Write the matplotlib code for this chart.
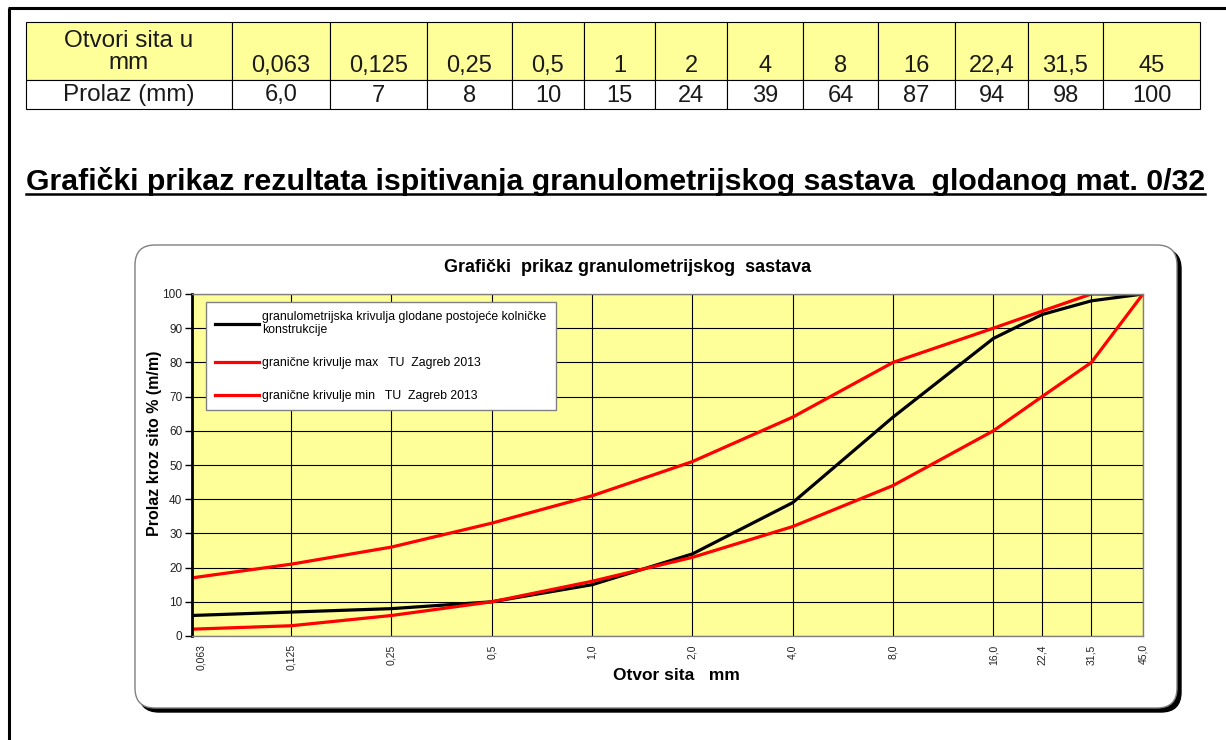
import matplotlib
matplotlib.use("Agg")
import matplotlib.pyplot as plt
from matplotlib.patches import FancyBboxPatch, Rectangle
from matplotlib.ticker import FixedLocator, FixedFormatter, NullLocator
from matplotlib.transforms import ScaledTranslation

plt.rcParams["font.family"] = ["Liberation Sans", "DejaVu Sans"]

# data
sieve_mm = [0.063, 0.125, 0.25, 0.5, 1.0, 2.0, 4.0, 8.0, 16.0, 22.4, 31.5, 45.0]
passing = [6.0, 7, 8, 10, 15, 24, 39, 64, 87, 94, 98, 100]
limit_max = [17, 21, 26, 33, 41, 51, 64, 80, 90, 95, 100, 100]
limit_min = [2, 3, 6, 10, 16, 23, 32, 44, 60, 70, 80, 100]

table_heads = ["0,063", "0,125", "0,25", "0,5", "1", "2", "4", "8", "16", "22,4", "31,5", "45"]
table_vals = ["6,0", "7", "8", "10", "15", "24", "39", "64", "87", "94", "98", "100"]
x_ticklabels = ["0,063", "0,125", "0,25", "0,5", "1,0", "2,0", "4,0", "8,0", "16,0", "22,4", "31,5", "45,0"]

heading = "Grafički prikaz rezultata ispitivanja granulometrijskog sastava  glodanog mat. 0/32"
chart_title = "Grafički  prikaz granulometrijskog  sastava"
legend_labels = [
    "granulometrijska krivulja glodane postojeće kolničke\nkonstrukcije",
    "granične krivulje max   TU  Zagreb 2013",
    "granične krivulje min   TU  Zagreb 2013",
]

W, H = 1226, 740
fig = plt.figure(figsize=(W / 100, H / 100), dpi=100)

# page layer in pixel units
page = fig.add_axes([0, 0, 1, 1])
page.set_xlim(0, W)
page.set_ylim(H, 0)
page.axis("off")

# page border
page.plot([8, W], [8, 8], color="black", lw=2.2, solid_capstyle="butt")
page.plot([9, 9], [8, H], color="black", lw=2.2, solid_capstyle="butt")

# table
col_edges = [26, 232, 330, 427, 512, 584, 655, 727, 803, 878, 955, 1028, 1103, 1200]
row_top, row_mid, row_bot = 22, 80, 109
txt = "#1a1a1a"
for i in range(len(col_edges) - 1):
    x0, x1 = col_edges[i], col_edges[i + 1]
    page.add_patch(Rectangle((x0, row_top), x1 - x0, row_mid - row_top,
                             facecolor="#FFFF99", edgecolor="black", lw=0.8))
    page.add_patch(Rectangle((x0, row_mid), x1 - x0, row_bot - row_mid,
                             facecolor="white", edgecolor="black", lw=0.8))
    xc = (x0 + x1) / 2
    if i == 0:
        page.text(xc, (row_top + row_mid) / 2 + 1, "Otvori sita u\nmm", fontsize=17.5,
                  ha="center", va="center", linespacing=1.0, color=txt)
        page.text(xc, (row_mid + row_bot) / 2 + 1, "Prolaz (mm)", fontsize=17.5,
                  ha="center", va="center", color=txt)
    else:
        page.text(xc, row_mid - 3, table_heads[i - 1], fontsize=17,
                  ha="center", va="bottom", color=txt)
        page.text(xc, (row_mid + row_bot) / 2 + 1, table_vals[i - 1], fontsize=17,
                  ha="center", va="center", color=txt)

# heading with underline
ht = page.text(26, 190, heading, fontsize=21.8, weight="bold", ha="left", va="baseline")
fig.canvas.draw()
bb = ht.get_window_extent().transformed(page.transData.inverted())
page.plot([bb.x0, bb.x1], [194, 194], color="black", lw=1.8)

# chart frame with shadow
fx0, fy0, fw, fh = 135, 245, 1042, 463
page.add_patch(FancyBboxPatch((fx0 + 4, fy0 + 4), fw, fh,
                              boxstyle="round,pad=0,rounding_size=20",
                              facecolor="black", edgecolor="black", lw=1))
page.add_patch(FancyBboxPatch((fx0, fy0), fw, fh,
                              boxstyle="round,pad=0,rounding_size=20",
                              facecolor="white", edgecolor="#808080", lw=1))
page.text(628, 268, chart_title, fontsize=13, weight="bold", ha="center", va="center")

# chart
ax = fig.add_axes([192 / W, 1 - 636 / H, (1143 - 192) / W, (636 - 294) / H])
ax.set_facecolor("#FFFF99")
ax.set_xscale("log")

ax.plot(sieve_mm, passing, color="black", lw=2.3, label=legend_labels[0])
ax.plot(sieve_mm, limit_max, color="#FF0000", lw=2.3, label=legend_labels[1])
ax.plot(sieve_mm, limit_min, color="#FF0000", lw=2.3, label=legend_labels[2])

ax.set_xlim(0.063, 45)
ax.set_ylim(0, 100)
ax.xaxis.set_major_locator(FixedLocator(sieve_mm))
ax.xaxis.set_major_formatter(FixedFormatter(x_ticklabels))
ax.xaxis.set_minor_locator(NullLocator())
ax.set_yticks(range(0, 101, 10))
ax.grid(True, color="black", lw=0.8)
ax.set_axisbelow(True)

ax.tick_params(axis="x", length=0, labelrotation=90, labelsize=7.5, pad=6, labelcolor="#222222")
ax.tick_params(axis="y", length=5, width=1, labelsize=8.5, pad=2, labelcolor="#222222")
# first label sits a little to the right of the axis, as in the original
first = ax.get_xticklabels()[0]
first.set_transform(first.get_transform() + ScaledTranslation(9 / 100, 0, fig.dpi_scale_trans))
for s in ["top", "right", "bottom"]:
    ax.spines[s].set_color("#808080")
    ax.spines[s].set_linewidth(1)
ax.spines["left"].set_color("black")
ax.spines["left"].set_linewidth(2)

ax.set_xlabel("Otvor sita   mm", fontsize=12.5, weight="bold")
ax.xaxis.set_label_coords((676 - 192) / 951, -(676 - 636) / 342)
ax.xaxis.label.set_verticalalignment("center")
ax.set_ylabel("Prolaz kroz sito % (m/m)", fontsize=11.5, weight="bold")
ax.yaxis.set_label_coords((155 - 192) / 951, (636 - 443) / 342)
ax.yaxis.label.set_verticalalignment("center")

leg = ax.legend(loc="upper left", bbox_to_anchor=(0.0147, 0.655, 0.368, 0.3216),
                mode="expand", borderaxespad=0, fontsize=8.8, handlelength=3.6,
                handletextpad=0.3, borderpad=0.7, labelspacing=1.7,
                fancybox=False, framealpha=1, edgecolor="#808080")
leg.get_frame().set_linewidth(1)

fig.savefig("out.png", dpi=100)
plt.close()
